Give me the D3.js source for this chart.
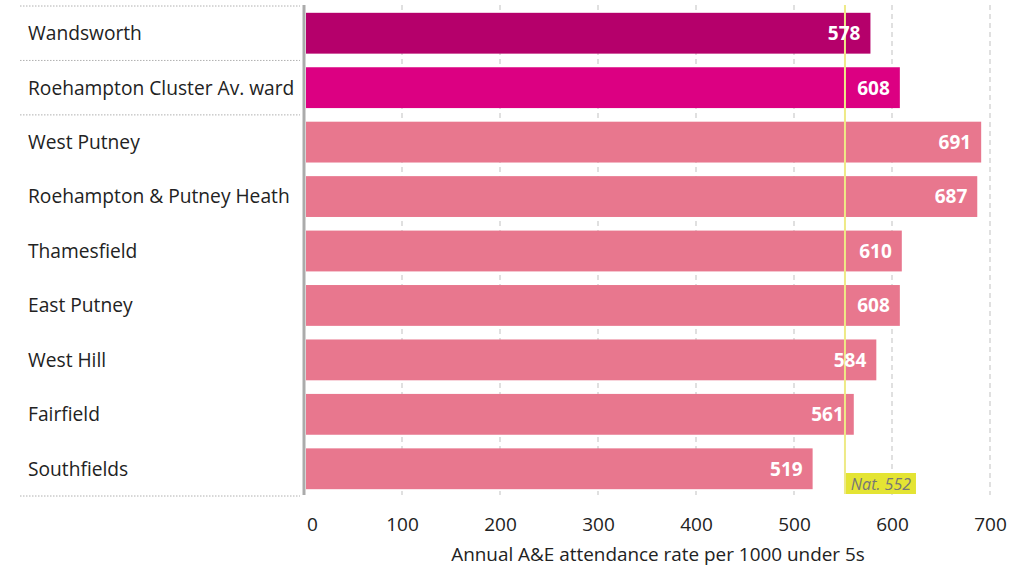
<!DOCTYPE html>
<html><head><meta charset="utf-8">
<script src="https://cdn.jsdelivr.net/npm/d3@7"></script>
<style>
body{margin:0;background:#fff;}
svg{display:block;font-family:"Open Sans",sans-serif;}
</style></head>
<body>
<svg id="c" width="1028" height="568"></svg>
<script>
const categories = ["Wandsworth","Roehampton Cluster Av. ward","West Putney","Roehampton & Putney Heath","Thamesfield","East Putney","West Hill","Fairfield","Southfields"];
const values = [578,608,691,687,610,608,584,561,519];
const groups = ["borough","cluster","ward","ward","ward","ward","ward","ward","ward"];
const tickValues = [0,100,200,300,400,500,600,700];
const nationalValue = 552;
const nationalLabel = "Nat. 552";
const axisTitle = "Annual A&E attendance rate per 1000 under 5s";
const separatorsAfter = [-1,0,1,8];

const colors = {borough:"#b5006b", cluster:"#dc0082", ward:"#e8778e"};

const svg = d3.select("#c");
const x = d3.scaleLinear().domain([0,700]).range([304,990]);
const y = d3.scaleBand().domain(categories).range([6,496]).paddingInner(0.25).paddingOuter(0.125);
const step = y.step();

// gridlines
svg.append("g").selectAll("line").data(tickValues.filter(d=>d>0)).join("line")
  .attr("x1",d=>x(d)).attr("x2",d=>x(d)).attr("y1",5).attr("y2",495)
  .attr("stroke","#d6d6d6").attr("stroke-width",1.5).attr("stroke-dasharray","5,4");

// separators on label area
svg.append("g").selectAll("line").data(separatorsAfter).join("line")
  .attr("x1",20).attr("x2",300)
  .attr("y1",d=> d<0 ? 6 : y(categories[d]) - step*0.125 + step)
  .attr("y2",d=> d<0 ? 6 : y(categories[d]) - step*0.125 + step)
  .attr("stroke","#b0b0b0").attr("stroke-width",1).attr("stroke-dasharray","1.5,1.5");

// bars
svg.append("g").selectAll("rect").data(categories).join("rect")
  .attr("x",x(0)+2).attr("y",d=>y(d))
  .attr("width",(d,i)=>x(values[i])-x(0)-2).attr("height",y.bandwidth())
  .attr("fill",(d,i)=>colors[groups[i]]);

// category labels
svg.append("g").selectAll("text").data(categories).join("text")
  .attr("x",28).attr("y",d=>y(d)+y.bandwidth()/2).attr("dy","0.36em")
  .attr("font-size",19.2).attr("fill","#222").text(d=>d);

// national line
svg.append("line").attr("x1",x(nationalValue)).attr("x2",x(nationalValue))
  .attr("y1",5).attr("y2",494).attr("stroke","#eeea86").attr("stroke-width",2);

// value labels
svg.append("g").selectAll("text").data(categories).join("text")
  .attr("x",(d,i)=>x(values[i])-10).attr("y",d=>y(d)+y.bandwidth()/2).attr("dy","0.36em")
  .attr("text-anchor","end").attr("font-size",19).attr("font-weight","bold").attr("fill","#fff")
  .text((d,i)=>values[i]);

// national label
const nx = x(nationalValue)+1;
svg.append("rect").attr("x",nx).attr("y",473).attr("width",70).attr("height",21).attr("fill","#e4e433");
svg.append("text").attr("x",nx+35).attr("y",484).attr("dy","0.35em").attr("text-anchor","middle")
  .attr("font-size",16).attr("font-style","italic").attr("fill","#777").text(nationalLabel);

// axis line
svg.append("line").attr("x1",304).attr("x2",304).attr("y1",5).attr("y2",495)
  .attr("stroke","#ababab").attr("stroke-width",3);

// x axis ticks
const ax = svg.append("g").attr("transform","translate(0,531)")
  .call(d3.axisBottom(x).tickValues(tickValues).tickSize(0).tickPadding(0).tickFormat(d3.format("d")));
ax.select(".domain").remove();
ax.selectAll("text").attr("font-size",19).attr("fill","#222").attr("font-family","'Open Sans',sans-serif")
  .attr("y",0).attr("dy","0").attr("dx",d=>d===0?8:0);

svg.append("text").attr("x",658).attr("y",561)
  .attr("text-anchor","middle")
  .attr("font-size",18.9).attr("fill","#222").text(axisTitle);
</script>
</body></html>
